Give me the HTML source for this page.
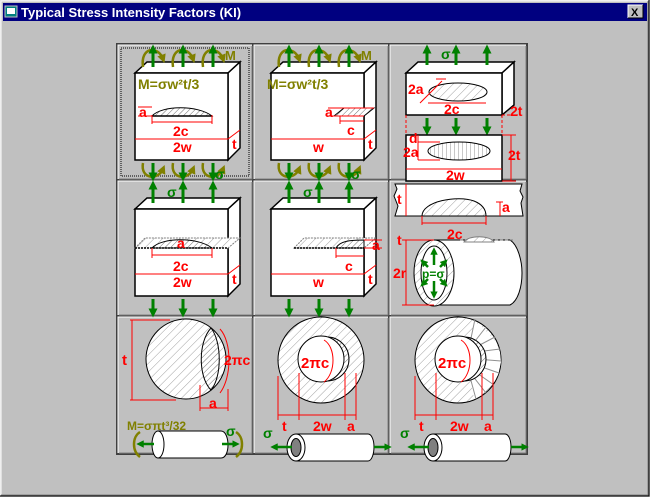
<!DOCTYPE html>
<html><head><meta charset="utf-8"><style>
html,body{margin:0;padding:0;background:#c0c0c0;width:650px;height:497px;overflow:hidden}
svg{display:block}
text{font-family:"Liberation Sans",sans-serif;font-weight:bold}
</style></head><body>
<svg width="650" height="497" viewBox="0 0 650 497" xmlns="http://www.w3.org/2000/svg">
<defs>
<pattern id="h" width="6" height="6" patternUnits="userSpaceOnUse" patternTransform="rotate(45)"><rect width="6" height="6" fill="#fff"/><line x1="0" y1="0" x2="0" y2="6" stroke="#a0a0a0" stroke-width="1"/></pattern>
<pattern id="hd" width="4" height="4" patternUnits="userSpaceOnUse" patternTransform="rotate(45)"><rect width="4" height="4" fill="#fff"/><line x1="0" y1="0" x2="0" y2="4" stroke="#707070" stroke-width="1"/></pattern>
<pattern id="v" width="4" height="4" patternUnits="userSpaceOnUse"><rect width="4" height="4" fill="#fff"/><line x1="0" y1="0" x2="0" y2="4" stroke="#909090"/></pattern>
<marker id="ga" viewBox="0 0 10 10" refX="5" refY="5" markerWidth="3" markerHeight="3" orient="auto"><path d="M0,0L10,5L0,10z" fill="#008000"/></marker>
<marker id="oa" viewBox="0 0 10 10" refX="5" refY="5" markerWidth="3.5" markerHeight="3.5" orient="auto"><path d="M0,0L10,5L0,10z" fill="#808000"/></marker>
<g id="box">
<path d="M17,28 L29,17 L122,17 L110,28z" fill="#fff" stroke="#000" stroke-width="1.5"/>
<path d="M110,28 L122,17 L122,103 L110,115z" fill="#fff" stroke="#000" stroke-width="1.5"/>
<rect x="17" y="28" width="93" height="87" fill="#fff" stroke="#000" stroke-width="1.5"/>
</g>
<g id="upA" stroke="#008000" stroke-width="3" fill="none">
<line x1="35" y1="22" x2="35" y2="4" marker-end="url(#ga)"/><line x1="65" y1="22" x2="65" y2="4" marker-end="url(#ga)"/><line x1="95" y1="22" x2="95" y2="4" marker-end="url(#ga)"/>
</g>
<g id="dnA" stroke="#008000" stroke-width="3" fill="none">
<line x1="35" y1="118" x2="35" y2="132" marker-end="url(#ga)"/><line x1="65" y1="118" x2="65" y2="132" marker-end="url(#ga)"/><line x1="95" y1="118" x2="95" y2="132" marker-end="url(#ga)"/>
</g>
<g id="mom" stroke="#808000" stroke-width="2.5" fill="none">
<path d="M25,22 C22,2 40,0 45,14" marker-end="url(#oa)"/><path d="M55,22 C52,2 70,0 75,14" marker-end="url(#oa)"/><path d="M85,22 C82,2 100,0 105,14" marker-end="url(#oa)"/>
<path d="M25,118 C22,134 40,136 45,124" marker-end="url(#oa)"/><path d="M55,118 C52,134 70,136 75,124" marker-end="url(#oa)"/><path d="M85,118 C82,134 100,136 105,124" marker-end="url(#oa)"/>
</g>
</defs>
<rect x="0" y="0" width="650" height="497" fill="#c0c0c0"/>
<path d="M0,496V0H649" stroke="#dfdfdf" fill="none"/><path d="M1,495V1H648" stroke="#fff" fill="none"/>
<path d="M0,496H649V0" stroke="#000" fill="none"/><path d="M1,495H648V1" stroke="#808080" fill="none"/>
<rect x="3" y="3" width="644" height="18" fill="#000080"/>
<rect x="5" y="6" width="12" height="11" fill="#008080" stroke="#c0c0c0"/><rect x="7" y="8" width="8" height="6" fill="#fff"/>
<text x="21" y="17" fill="#fff" font-size="13">Typical Stress Intensity Factors (KI)</text>
<rect x="628" y="5" width="15" height="13" fill="#c0c0c0"/><path d="M628,18V5H643" stroke="#fff" fill="none"/><path d="M628,18H643V5" stroke="#000" fill="none"/>
<text x="631" y="16" font-size="11" fill="#000">X</text>
<rect x="116" y="43" width="412" height="412" fill="#404040"/>
<g fill="#c0c0c0">
<rect x="118" y="45" width="134" height="134"/><rect x="254" y="45" width="134" height="134"/><rect x="390" y="45" width="136" height="134"/>
<rect x="118" y="181" width="134" height="134"/><rect x="254" y="181" width="134" height="134"/><rect x="390" y="181" width="136" height="134"/>
<rect x="118" y="317" width="134" height="136"/><rect x="254" y="317" width="134" height="136"/><rect x="390" y="317" width="136" height="136"/>
</g>
<g fill="none" stroke="#fff"><path d="M118,179V45H252M254,179V45H388M390,179V45H526M118,315V181H252M254,315V181H388M390,315V181H526M118,453V317H252M254,453V317H388M390,453V317H526"/></g>
<g fill="none" stroke="#808080"><path d="M119,179H252V46M255,179H388V46M391,179H526V46M119,315H252V182M255,315H388V182M391,315H526V182M119,453H252V318M255,453H388V318M391,453H526V318"/></g>
<rect x="121" y="48" width="128" height="128" fill="none" stroke="#000" stroke-dasharray="1,1"/>

<g transform="translate(118,45)">
<use href="#box"/><use href="#mom"/><use href="#upA"/><use href="#dnA"/>
<text x="107" y="15" fill="#808000" font-size="13">M</text>
<text x="20" y="44" fill="#808000" font-size="14">M=σw²t/3</text>
<path d="M34,71 C44,60 80,60 94,71z" fill="url(#hd)" stroke="#000"/>
<line x1="34" y1="71" x2="94" y2="71" stroke="#000" stroke-width="1.5"/>
<line x1="20" y1="62" x2="34" y2="62" stroke="#f00"/><line x1="20" y1="71" x2="34" y2="71" stroke="#f00"/>
<text x="21" y="72" fill="#f00" font-size="14">a</text>
<path d="M34,70V79M94,70V79M34,77H94" stroke="#f00" fill="none"/>
<text x="55" y="91" fill="#f00" font-size="14">2c</text>
<line x1="17" y1="94" x2="110" y2="94" stroke="#f00"/><line x1="110" y1="94" x2="122" y2="85" stroke="#f00"/>
<text x="55" y="107" fill="#f00" font-size="14">2w</text>
<text x="114" y="104" fill="#f00" font-size="14">t</text>
<text x="97" y="134" fill="#008000" font-size="14">σ</text>
</g>
<g transform="translate(254,45)">
<use href="#box"/><use href="#mom"/><use href="#upA"/><use href="#dnA"/>
<text x="107" y="15" fill="#808000" font-size="13">M</text>
<text x="13" y="44" fill="#808000" font-size="14">M=σw²t/3</text>
<path d="M80,71 L90,63 L120,63 L110,71z" fill="url(#hd)" stroke="#000"/>
<line x1="74" y1="63" x2="120" y2="63" stroke="#f00"/><line x1="74" y1="71" x2="110" y2="71" stroke="#f00"/>
<text x="71" y="72" fill="#f00" font-size="14">a</text>
<path d="M86,71V79M86,76H110" stroke="#f00" fill="none"/>
<text x="93" y="90" fill="#f00" font-size="14">c</text>
<line x1="17" y1="94" x2="110" y2="94" stroke="#f00"/><line x1="110" y1="94" x2="122" y2="85" stroke="#f00"/>
<text x="59" y="107" fill="#f00" font-size="14">w</text>
<text x="114" y="104" fill="#f00" font-size="14">t</text>
<text x="97" y="134" fill="#008000" font-size="14">σ</text>
</g>
<g transform="translate(390,45)">
<path d="M16,28 L28,17 L124,17 L112,28z" fill="#fff" stroke="#000" stroke-width="1.5"/>
<path d="M112,28 L124,17 L124,60 L112,70z" fill="#fff" stroke="#000" stroke-width="1.5"/>
<rect x="16" y="28" width="96" height="42" fill="#fff" stroke="#000" stroke-width="1.5"/>
<g stroke="#008000" stroke-width="3"><line x1="37" y1="20" x2="37" y2="4" marker-end="url(#ga)"/><line x1="66" y1="20" x2="66" y2="4" marker-end="url(#ga)"/><line x1="97" y1="20" x2="97" y2="4" marker-end="url(#ga)"/>
<line x1="37" y1="73" x2="37" y2="86" marker-end="url(#ga)"/><line x1="66" y1="73" x2="66" y2="86" marker-end="url(#ga)"/><line x1="97" y1="73" x2="97" y2="86" marker-end="url(#ga)"/></g>
<text x="51" y="14" fill="#008000" font-size="14">σ</text>
<ellipse cx="68" cy="47" rx="29" ry="9" fill="url(#h)" stroke="#000"/>
<path d="M30,58L52,36M38,58L96,58M46,34L56,34" stroke="#f00" fill="none"/>
<text x="18" y="49" fill="#f00" font-size="14">2a</text>
<text x="54" y="69" fill="#f00" font-size="14">2c</text>
<text x="120" y="71" fill="#f00" font-size="14">2t</text>
<path d="M112,70H128M16,70V90M112,70V90" stroke="#f00" stroke-dasharray="3,2" fill="none"/>
<rect x="16" y="90" width="96" height="46" fill="#fff" stroke="#000" stroke-width="1.5"/>
<ellipse cx="69" cy="106" rx="31" ry="9" fill="url(#v)" stroke="#000"/>
<path d="M28,90V115M28,97H50M28,115H50M112,90H126M112,136H126M121,90V136M16,124H112" stroke="#f00" fill="none"/>
<text x="19" y="98" fill="#f00" font-size="14">d</text>
<text x="13" y="112" fill="#f00" font-size="14">2a</text>
<text x="118" y="115" fill="#f00" font-size="14">2t</text>
<text x="56" y="135" fill="#f00" font-size="14">2w</text>
</g>
<g transform="translate(118,181)">
<use href="#box"/><use href="#upA"/><use href="#dnA"/>
<text x="49" y="16" fill="#008000" font-size="14">σ</text>
<path d="M17,67 L27,57 L122,57 L110,67z" fill="url(#h)" stroke="#808080" stroke-dasharray="2,1"/>
<path d="M34,67 C44,56 80,56 94,67z" fill="url(#hd)" stroke="#000"/>
<line x1="17" y1="67" x2="110" y2="67" stroke="#000" stroke-dasharray="2,1" stroke-width="1.5"/>
<text x="59" y="67" fill="#f00" font-size="14">a</text>
<path d="M34,67V77M94,67V77M34,74H94" stroke="#f00" fill="none"/>
<text x="55" y="90" fill="#f00" font-size="14">2c</text>
<line x1="17" y1="93" x2="110" y2="93" stroke="#f00"/><line x1="110" y1="93" x2="122" y2="84" stroke="#f00"/>
<text x="55" y="106" fill="#f00" font-size="14">2w</text>
<text x="114" y="103" fill="#f00" font-size="14">t</text>
</g>
<g transform="translate(254,181)">
<use href="#box"/><use href="#upA"/><use href="#dnA"/>
<text x="49" y="16" fill="#008000" font-size="14">σ</text>
<path d="M40,67 L50,57 L122,57 L110,67z" fill="url(#h)" stroke="#808080" stroke-dasharray="2,1"/>
<path d="M82,67 C86,60 96,59 110,59 L110,67z" fill="url(#hd)" stroke="#000"/>
<line x1="40" y1="67" x2="110" y2="67" stroke="#000" stroke-dasharray="2,1" stroke-width="1.5"/>
<path d="M110,59H128M110,67H128" stroke="#f00"/>
<text x="118" y="69" fill="#f00" font-size="14">a</text>
<path d="M82,67V77M82,75H110" stroke="#f00" fill="none"/>
<text x="91" y="90" fill="#f00" font-size="14">c</text>
<line x1="17" y1="93" x2="110" y2="93" stroke="#f00"/><line x1="110" y1="93" x2="122" y2="84" stroke="#f00"/>
<text x="59" y="106" fill="#f00" font-size="14">w</text>
<text x="114" y="103" fill="#f00" font-size="14">t</text>
</g>
<g transform="translate(390,181)">
<path d="M5,3H132L130,10L133,16L131,22L133,35H5L8,25L4,15L7,8z" fill="#fff" stroke="#000"/>
<path d="M32,35 C32,20 68,14 84,20 C94,24 96,30 96,35z" fill="url(#h)" stroke="#000"/>
<line x1="16" y1="3" x2="16" y2="35" stroke="#f00"/>
<text x="7" y="23" fill="#f00" font-size="14">t</text>
<path d="M106,21H113M110,21V35" stroke="#f00"/><text x="112" y="31" fill="#f00" font-size="14">a</text>
<path d="M32,35V44M96,35V44M32,42H96" stroke="#f00" fill="none"/>
<text x="57" y="58" fill="#f00" font-size="14">2c</text>
<path d="M44,59H120C128,64 132,80 132,92C132,106 128,120 120,124H44" fill="#fff" stroke="#000"/>
<path d="M70,59H124" stroke="#808080" stroke-dasharray="3,2"/>
<path d="M74,61C78,54 100,54 104,61z" fill="url(#h)" stroke="#808080"/>
<ellipse cx="44" cy="92" rx="20" ry="33" fill="url(#h)" stroke="#000"/>
<ellipse cx="44" cy="92" rx="13" ry="27" fill="#fff" stroke="#000"/>
<path d="M12,59H44M12,124H44M16,59V124" stroke="#f00" fill="none"/>
<text x="7" y="64" fill="#f00" font-size="14">t</text>
<text x="3" y="97" fill="#f00" font-size="14">2r</text>
<g stroke="#008000" stroke-width="2.5"><line x1="44" y1="84" x2="44" y2="70" marker-end="url(#ga)"/><line x1="44" y1="100" x2="44" y2="114" marker-end="url(#ga)"/>
<line x1="38" y1="86" x2="33" y2="81" marker-end="url(#ga)"/><line x1="50" y1="86" x2="55" y2="81" marker-end="url(#ga)"/><line x1="38" y1="98" x2="33" y2="103" marker-end="url(#ga)"/><line x1="50" y1="98" x2="55" y2="103" marker-end="url(#ga)"/></g>
<text x="32" y="97" fill="#008000" font-size="12">p=σ</text>
</g>
<g transform="translate(118,317)">
<circle cx="68" cy="42" r="40" fill="url(#h)" stroke="#000"/>
<path d="M93,11 C80,25 80,60 93,73 C104,60 104,25 93,11z" fill="url(#hd)" stroke="#000"/>
<path d="M12,3H52M12,83H58M14,3V83" stroke="#f00" fill="none"/>
<text x="4" y="48" fill="#f00" font-size="15">t</text>
<path d="M102,12C114,25 114,60 102,76" stroke="#f00" fill="none"/>
<text x="106" y="48" fill="#f00" font-size="14">2πc</text>
<path d="M82,68V94M110,72V94M82,91H110" stroke="#f00" fill="none"/>
<text x="91" y="91" fill="#f00" font-size="14">a</text>
<text x="9" y="113" fill="#808000" font-size="12">M=σπt³/32</text>
<path d="M40,114H103C108,114 110,122 110,128C110,134 108,141 103,141H40z" fill="#fff" stroke="#000"/>
<ellipse cx="40" cy="127.5" rx="6" ry="13.5" fill="#fff" stroke="#000"/>
<g stroke="#008000" stroke-width="2.5"><line x1="36" y1="127" x2="22" y2="127" marker-end="url(#ga)"/><line x1="104" y1="127" x2="118" y2="127" marker-end="url(#ga)"/></g>
<path d="M22,115C14,120 14,134 22,140M118,115C126,120 126,134 118,140" stroke="#808000" stroke-width="2.5" fill="none"/>
<text x="108" y="119" fill="#008000" font-size="14">σ</text>
</g>
<g transform="translate(254,317)">
<circle cx="67" cy="43" r="43" fill="url(#h)" stroke="#000"/>
<circle cx="73" cy="42" r="22" fill="url(#hd)" stroke="#000"/>
<circle cx="67" cy="42" r="23" fill="#fff" stroke="#000"/>
<path d="M70,23C82,30 82,56 70,65" stroke="#f00" fill="none"/>
<text x="47" y="51" fill="#f00" font-size="15">2πc</text>
<path d="M24,59V103M45,56V103M91,56V103M102,56V103M24,98H102" stroke="#f00" fill="none"/>
<text x="28" y="114" fill="#f00" font-size="14">t</text><text x="59" y="114" fill="#f00" font-size="14">2w</text><text x="93" y="114" fill="#f00" font-size="14">a</text>
<path d="M42,117H114C118,117 120,124 120,130C120,136 118,144 114,144H42z" fill="#fff" stroke="#000"/>
<ellipse cx="42" cy="130.5" rx="9" ry="13.5" fill="#fff" stroke="#000"/><ellipse cx="42" cy="130.5" rx="5" ry="9" fill="#808080" stroke="#000"/>
<g stroke="#008000" stroke-width="2.5"><line x1="38" y1="130" x2="20" y2="130" marker-end="url(#ga)"/><line x1="120" y1="130" x2="134" y2="130" marker-end="url(#ga)"/></g>
<text x="9" y="121" fill="#008000" font-size="14">σ</text>
</g>
<g transform="translate(390,317)">
<circle cx="68" cy="43" r="43" fill="url(#h)" stroke="#000"/>
<path d="M85,5 L92,10 L100,18 L106,25 L110,35 L111,45 L108,58 L100,70 L92,77 L84,82 L80,60 C90,52 90,34 80,26z" fill="#fff"/>
<g stroke="#909090"><path d="M80,26L85,2M82,28L96,10M84,31L105,20M86,35L110,32M86,42L111,44M86,48L109,56M84,54L104,68M82,58L96,76M80,60L86,82"/></g>
<circle cx="74" cy="42" r="22" fill="url(#hd)" stroke="#000"/>
<circle cx="68" cy="42" r="23" fill="#fff" stroke="#000"/>
<path d="M71,23C83,30 83,56 71,65" stroke="#f00" fill="none"/>
<text x="48" y="51" fill="#f00" font-size="15">2πc</text>
<path d="M25,59V103M46,56V103M92,56V103M103,56V103M25,98H103" stroke="#f00" fill="none"/>
<text x="29" y="114" fill="#f00" font-size="14">t</text><text x="60" y="114" fill="#f00" font-size="14">2w</text><text x="94" y="114" fill="#f00" font-size="14">a</text>
<path d="M43,117H115C119,117 121,124 121,130C121,136 119,144 115,144H43z" fill="#fff" stroke="#000"/>
<ellipse cx="43" cy="130.5" rx="9" ry="13.5" fill="#fff" stroke="#000"/><ellipse cx="43" cy="130.5" rx="5" ry="9" fill="#808080" stroke="#000"/>
<g stroke="#008000" stroke-width="2.5"><line x1="39" y1="130" x2="21" y2="130" marker-end="url(#ga)"/><line x1="121" y1="130" x2="135" y2="130" marker-end="url(#ga)"/></g>
<text x="10" y="121" fill="#008000" font-size="14">σ</text>
</g>
</svg>
</body></html>
